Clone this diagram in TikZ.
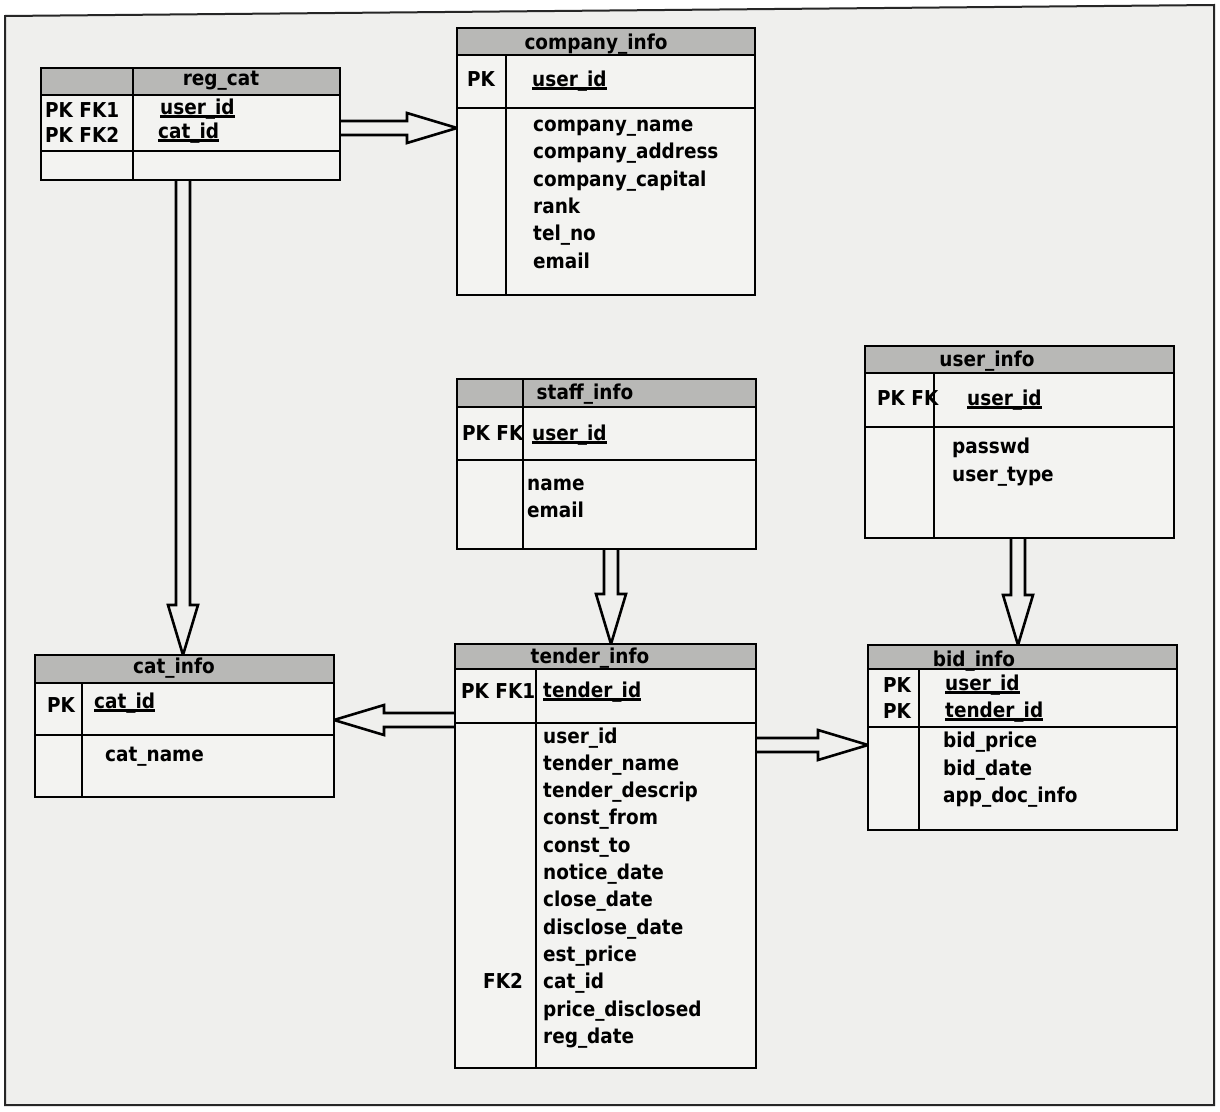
\documentclass[tikz,border=0pt]{standalone}
\usepackage{fontspec}
\setmainfont{DejaVu Sans}
\newfontfamily\heavyfont{DejaVu Sans Condensed}
\usetikzlibrary{calc}
\pgfdeclarelayer{bg}
\pgfsetlayers{bg,main}
\definecolor{page}{RGB}{239,239,237}
\definecolor{tablefill}{RGB}{243,243,241}
\definecolor{hdrfill}{RGB}{184,184,182}
\newcommand\fsz{\heavyfont\bfseries\fontsize{20.5}{24}\selectfont}
\newlength\ulw
\newcommand\ul[1]{\settowidth\ulw{#1}\rlap{\rule[-3.5pt]{\ulw}{2.2pt}}#1}
\tikzset{
  tbl/.style={fill=tablefill, inner sep=0pt, outer sep=0pt, anchor=north west},
  border/.style={draw=black, line width=2.8pt},
  sepline/.style={draw=black, line width=2.4pt},
  hdr/.style={fill=hdrfill},
  fld/.style={anchor=base west, inner sep=0pt, font=\fsz},
  ttl/.style={anchor=base, inner sep=0pt, font=\fsz},
  harrow/.style={draw=black, line width=2.6pt, fill=page, line join=miter},
}
% name x1 y1 x2 y2 yheader ykeys xdivider headerdivider(1/0)
\newcommand\erdtable[9]{%
  \node[tbl, minimum width={(#4-#2)*1pt}, minimum height={(#5-#3)*1pt}] (#1) at (#2,#3) {};
  \fill[hdr] (#2,#3) rectangle (#4,#6);
  \draw[sepline] (#2,#6) -- (#4,#6) (#2,#7) -- (#4,#7);
  \ifnum#9=1 \draw[sepline] (#8,#3) -- (#8,#5);\else\draw[sepline] (#8,#6) -- (#8,#5);\fi
  \draw[border] (#1.north west) rectangle (#1.south east);
}
\newcommand\hollowarrow[2]{%
  \coordinate (hb) at ($(#2)!50pt!(#1)$);
  \draw[harrow] ($(#1)!7pt!90:(#2)$) -- ($(hb)!7pt!90:(#2)$) -- ($(hb)!15pt!90:(#2)$) -- (#2)
     -- ($(hb)!15pt!-90:(#2)$) -- ($(hb)!7pt!-90:(#2)$) -- ($(#1)!7pt!-90:(#2)$);
}
\begin{document}
\begin{tikzpicture}[x=1pt,y=-1pt]
\useasboundingbox (0,0) rectangle (1220,1111);
\begin{pgfonlayer}{bg}
  \fill[white] (0,0) rectangle (1220,1111);
  \fill[page] (5,16) -- (1214,5) -- (1214,1105) -- (5,1105) -- cycle;
\end{pgfonlayer}
\draw[line width=2pt, draw=black!85] (5,16) -- (1214,5) -- (1214,1105) -- (5,1105) -- cycle;

% tables
\erdtable{regcat}{41}{68}{340}{180}{95}{151}{133}{1}
\erdtable{company}{457}{28}{755}{295}{55}{108}{506}{0}
\erdtable{staff}{457}{379}{756}{549}{407}{460}{523}{1}
\erdtable{user}{865}{346}{1174}{538}{373}{427}{934}{0}
\erdtable{bid}{868}{645}{1177}{830}{669}{727}{919}{0}
\erdtable{cat}{35}{655}{334}{797}{683}{735}{82}{0}
\erdtable{tender}{455}{644}{756}{1068}{669}{723}{536}{0}

% reg_cat
\node[ttl] (tregcat) at (221,85) {reg\_cat};
\node[fld] (rk1) at (45,117) {PK FK1};
\node[fld] (rk2) at (45,142) {PK FK2};
\node[fld] (rf1) at (160,114) {\ul{user\_id}};
\node[fld] (rf2) at (158,138) {\ul{cat\_id}};

% company_info
\node[ttl] (tcompany) at (596,49) {company\_info};
\node[fld] (ck1) at (467,86) {PK};
\node[fld] (cf0) at (532,86) {\ul{user\_id}};
\node[fld] (cf1) at (533,131) {company\_name};
\node[fld] (cf2) at (533,158.5) {company\_address};
\node[fld] (cf3) at (533,186) {company\_capital};
\node[fld] (cf4) at (533,213) {rank};
\node[fld] (cf5) at (533,240.5) {tel\_no};
\node[fld] (cf6) at (533,268) {email};

% staff_info
\node[ttl] (tstaff) at (585,399) {staff\_info};
\node[fld] (sk1) at (462,440) {PK FK};
\node[fld] (sf0) at (532,440) {\ul{user\_id}};
\node[fld] (sf1) at (527,490) {name};
\node[fld] (sf2) at (527,517) {email};

% user_info
\node[ttl] (tuser) at (987,366) {user\_info};
\node[fld] (uk1) at (877,405) {PK FK};
\node[fld] (uf0) at (967,405) {\ul{user\_id}};
\node[fld] (uf1) at (952,453) {passwd};
\node[fld] (uf2) at (952,481) {user\_type};

% bid_info
\node[ttl] (tbid) at (974,666) {bid\_info};
\node[fld] (bk1) at (883,692) {PK};
\node[fld] (bk2) at (883,718) {PK};
\node[fld] (bf0) at (945,690) {\ul{user\_id}};
\node[fld] (bf1) at (945,717) {\ul{tender\_id}};
\node[fld] (bf2) at (943,747) {bid\_price};
\node[fld] (bf3) at (943,775) {bid\_date};
\node[fld] (bf4) at (943,802) {app\_doc\_info};

% cat_info
\node[ttl] (tcat) at (174,673) {cat\_info};
\node[fld] (ak1) at (47,712) {PK};
\node[fld] (af0) at (94,708) {\ul{cat\_id}};
\node[fld] (af1) at (105,761) {cat\_name};

% tender_info
\node[ttl] (ttender) at (590,663) {tender\_info};
\node[fld] (tk1) at (461,698) {PK FK1};
\node[fld] (tf0) at (543,697) {\ul{tender\_id}};
\node[fld] (tf1) at (543,743) {user\_id};
\node[fld] (tf2) at (543,770.3) {tender\_name};
\node[fld] (tf3) at (543,797.6) {tender\_descrip};
\node[fld] (tf4) at (543,824.9) {const\_from};
\node[fld] (tf5) at (543,852.2) {const\_to};
\node[fld] (tf6) at (543,879.5) {notice\_date};
\node[fld] (tf7) at (543,906.8) {close\_date};
\node[fld] (tf8) at (543,934.1) {disclose\_date};
\node[fld] (tf9) at (543,961.4) {est\_price};
\node[fld] (tf10) at (543,988.7) {cat\_id};
\node[fld] (tk2) at (483,988.7) {FK2};
\node[fld] (tf11) at (543,1016) {price\_disclosed};
\node[fld] (tf12) at (543,1043.3) {reg\_date};

% connectors
\coordinate (ya1) at (0,128);
\coordinate (xa2) at (183,0);
\coordinate (xa3) at (611,0);
\coordinate (xa4) at (1018,0);
\coordinate (ya5) at (0,720);
\coordinate (ya6) at (0,745);
\coordinate (a1s) at (regcat.east |- ya1);
\coordinate (a1e) at (company.west |- ya1);
\coordinate (a2s) at (regcat.south -| xa2);
\coordinate (a2e) at (cat.north -| xa2);
\coordinate (a3s) at (staff.south -| xa3);
\coordinate (a3e) at (tender.north -| xa3);
\coordinate (a4s) at (user.south -| xa4);
\coordinate (a4e) at (bid.north -| xa4);
\coordinate (a5s) at (tender.west |- ya5);
\coordinate (a5e) at (cat.east |- ya5);
\coordinate (a6s) at (tender.east |- ya6);
\coordinate (a6e) at (bid.west |- ya6);
\begin{pgfonlayer}{bg}
  \hollowarrow{a1s}{a1e}
  \hollowarrow{a2s}{a2e}
  \hollowarrow{a3s}{a3e}
  \hollowarrow{a4s}{a4e}
  \hollowarrow{a5s}{a5e}
  \hollowarrow{a6s}{a6e}
\end{pgfonlayer}
\end{tikzpicture}
\end{document}
